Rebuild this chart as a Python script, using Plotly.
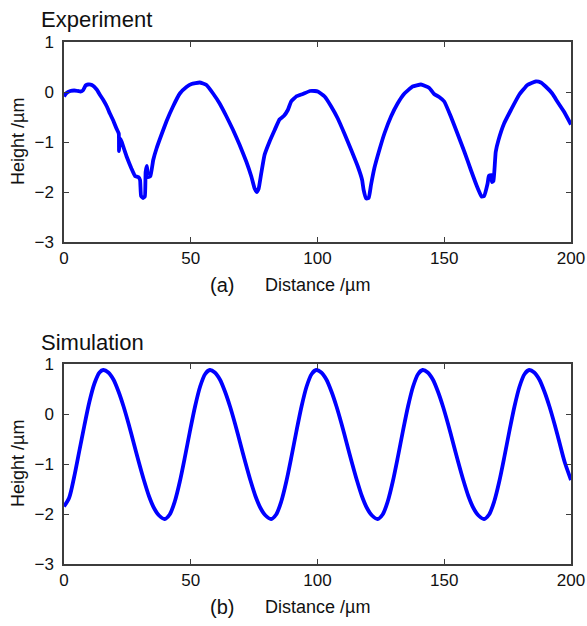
import plotly.graph_objects as go

W, H = 587, 626

# ---------------- data ----------------
exp_x = [0, 1, 2.5, 4, 5.5, 6.5, 7.6, 8.5, 9.5, 11, 12.9, 14.2, 15.5, 17, 18.1, 19.5,
         20.7, 21.6, 21.7, 22.0, 22.7, 23.7, 24.7, 25.7, 26.6, 28, 29.3, 30.0, 30.4,
         31.2, 31.9, 32.2, 32.7, 33.2, 34.1, 35.2, 36.5, 38.4, 40.4, 43, 45.7, 48.3,
         50.3, 53.5, 56.2, 58.8, 61.4, 64.1, 66.7, 69.3, 71.9, 73.9, 75.2, 76, 76.8,
         77.8, 79.1, 81.1, 83.1, 85, 86.7, 88.3, 89.6, 91.6, 94.2, 97, 99, 100.1,
         102.8, 105.4, 108, 110.6, 113.3, 115.9, 117.6, 118.2, 119.2, 120.2, 121.1,
         122.4, 124.4, 126.4, 129, 131.6, 134.3, 137.5, 140.8, 144.1, 146, 148, 150,
         152.6, 155.2, 157.9, 160.5, 162.7, 164.7, 165.7, 167.1, 167.6, 168.5, 168.8,
         169.4, 169.8, 170.3, 171.4, 173.6, 176.3, 179.5, 182.8, 186.1, 188.1, 190,
         192.6, 194.6, 197.2, 200]
exp_y = [-0.09, -0.02, 0.02, 0.03, 0.02, 0.01, 0.04, 0.13, 0.15, 0.14, 0.05, -0.06,
         -0.16, -0.30, -0.43, -0.58, -0.73, -0.83, -1.18, -0.93, -0.99, -1.14, -1.29,
         -1.42, -1.53, -1.68, -1.70, -1.76, -2.08, -2.12, -2.09, -1.60, -1.48, -1.70,
         -1.68, -1.36, -1.13, -0.86, -0.59, -0.29, -0.03, 0.10, 0.16, 0.19, 0.14,
         -0.03, -0.23, -0.49, -0.76, -1.06, -1.39, -1.69, -1.93, -2.00, -1.93, -1.63,
         -1.26, -0.99, -0.76, -0.55, -0.48, -0.36, -0.19, -0.09, -0.04, 0.02, 0.02,
         0.01, -0.09, -0.29, -0.53, -0.83, -1.16, -1.49, -1.76, -1.96, -2.13, -2.12,
         -1.86, -1.53, -1.16, -0.83, -0.49, -0.23, -0.03, 0.11, 0.15, 0.08, -0.04,
         -0.10, -0.19, -0.49, -0.83, -1.19, -1.56, -1.86, -2.09, -2.08, -1.83, -1.68,
         -1.66, -1.80, -1.78, -1.56, -1.20, -0.96, -0.63, -0.36, -0.06, 0.14, 0.21,
         0.19, 0.11, -0.03, -0.19, -0.39, -0.65]

sim_x = [0, 2, 4, 6, 8, 10, 12, 14, 15.5,
         17.5, 19.5, 21.5, 23.5, 25.5, 27.5, 29.5, 31.5, 33.5, 35.5, 37.5, 39.7,
         41.7, 43.7, 45.7, 47.7, 49.7, 51.7, 53.7, 55.7, 57.5,
         59.5, 61.5, 63.5, 65.5, 67.5, 69.5, 71.5, 73.5, 75.5, 77.5, 79.5, 81.7,
         83.7, 85.7, 87.7, 89.7, 91.7, 93.7, 95.7, 97.7, 99.5,
         101.5, 103.5, 105.5, 107.5, 109.5, 111.5, 113.5, 115.5, 117.5, 119.5, 121.5, 123.7,
         125.7, 127.7, 129.7, 131.7, 133.7, 135.7, 137.7, 139.7, 141.5,
         143.5, 145.5, 147.5, 149.5, 151.5, 153.5, 155.5, 157.5, 159.5, 161.5, 163.5, 165.7,
         167.7, 169.7, 171.7, 173.7, 175.7, 177.7, 179.7, 181.7, 183.5,
         185.5, 187.5, 189.5, 191.5, 193.5, 195.5, 197.5, 200]
sim_y = [-1.85, -1.68, -1.26, -0.75, -0.24, 0.24, 0.61, 0.83, 0.88,
         0.83, 0.69, 0.45, 0.15, -0.20, -0.58, -0.96, -1.32, -1.64, -1.88, -2.03, -2.10,
         -2.01, -1.75, -1.35, -0.86, -0.34, 0.15, 0.55, 0.80, 0.88,
         0.83, 0.69, 0.45, 0.15, -0.20, -0.58, -0.96, -1.32, -1.64, -1.88, -2.03, -2.10,
         -2.01, -1.75, -1.35, -0.86, -0.34, 0.15, 0.55, 0.80, 0.88,
         0.83, 0.69, 0.45, 0.15, -0.20, -0.58, -0.96, -1.32, -1.64, -1.88, -2.03, -2.10,
         -2.01, -1.75, -1.35, -0.86, -0.34, 0.15, 0.55, 0.80, 0.88,
         0.83, 0.69, 0.45, 0.15, -0.20, -0.58, -0.96, -1.32, -1.64, -1.88, -2.03, -2.10,
         -2.01, -1.75, -1.35, -0.86, -0.34, 0.15, 0.55, 0.80, 0.88,
         0.83, 0.69, 0.45, 0.15, -0.20, -0.58, -0.96, -1.32]

x_ticks = [0, 50, 100, 150, 200]
y_ticks = [-3, -2, -1, 0, 1]
panel_titles = ["Experiment", "Simulation"]
panel_tags = ["(a)", "(b)"]
x_label = "Distance /µm"
y_label = "Height /µm"

# ---------------- layout helpers (window pixel -> paper) ----------------
def px(x):
    return x / W

def py(y):
    return 1 - y / H

FONT = "Liberation Sans, Arial, sans-serif"
AX_COLOR = "#3c3c3c"
LINE_COLOR = "#0000ff"
TXT = "#111111"

fig = go.Figure()
fig.add_trace(go.Scatter(x=exp_x, y=exp_y, mode="lines", xaxis="x", yaxis="y",
                         line=dict(color=LINE_COLOR, width=3.8, shape="spline",
                                   smoothing=0.35), showlegend=False))
fig.add_trace(go.Scatter(x=sim_x, y=sim_y, mode="lines", xaxis="x2", yaxis="y2",
                         line=dict(color=LINE_COLOR, width=3.8, shape="spline",
                                   smoothing=0.8), showlegend=False))

plot_left, plot_right = 64, 571
panels = [(42, 242), (364, 564)]

axis_common = dict(showgrid=False, zeroline=False, showline=True, linecolor=AX_COLOR,
                   linewidth=1.5, mirror="ticks", ticks="inside", ticklen=5,
                   tickwidth=1.2, tickcolor=AX_COLOR, automargin=False,
                   tickfont=dict(family=FONT, size=17, color=TXT))

layout = dict(width=W, height=H,
              margin=dict(l=0, r=0, t=0, b=0, pad=0, autoexpand=False),
              paper_bgcolor="white", plot_bgcolor="white", showlegend=False)

for i, (top, bot) in enumerate(panels):
    sx = "" if i == 0 else str(i + 1)
    layout["xaxis" + sx] = dict(axis_common, domain=[px(plot_left), px(plot_right)],
                                range=[0, 200], tickvals=x_ticks,
                                anchor="y" + sx)
    layout["yaxis" + sx] = dict(axis_common, domain=[py(bot), py(top)],
                                range=[-3, 1], tickvals=y_ticks,
                                ticklabelstandoff=5, anchor="x" + sx)

annotations = []
for i, (top, bot) in enumerate(panels):
    annotations.append(dict(text=panel_titles[i], x=px(39), y=py(top - 22),
                            xref="paper", yref="paper", xanchor="left", yanchor="middle",
                            showarrow=False, font=dict(family=FONT, size=22, color=TXT)))
    annotations.append(dict(text=panel_tags[i], x=px(222), y=py(bot + 43),
                            xref="paper", yref="paper", xanchor="center", yanchor="middle",
                            showarrow=False, font=dict(family=FONT, size=20, color=TXT)))
    annotations.append(dict(text=x_label, x=px(263), y=py(bot + 43),
                            xref="paper", yref="paper", xanchor="left", yanchor="middle",
                            showarrow=False, font=dict(family=FONT, size=18, color=TXT)))
    annotations.append(dict(text=y_label, x=px(18), y=py((top + bot) / 2),
                            xref="paper", yref="paper", xanchor="center", yanchor="middle",
                            textangle=-90, showarrow=False,
                            font=dict(family=FONT, size=18, color=TXT)))
layout["annotations"] = annotations

fig.update_layout(**layout)
# remove the default page margin so the 587x626 figure fills the window exactly
fig.write_html("out.html",
               config={"displayModeBar": False},
               post_script="document.body.style.margin='0';"
                           "document.body.style.overflow='hidden';")
